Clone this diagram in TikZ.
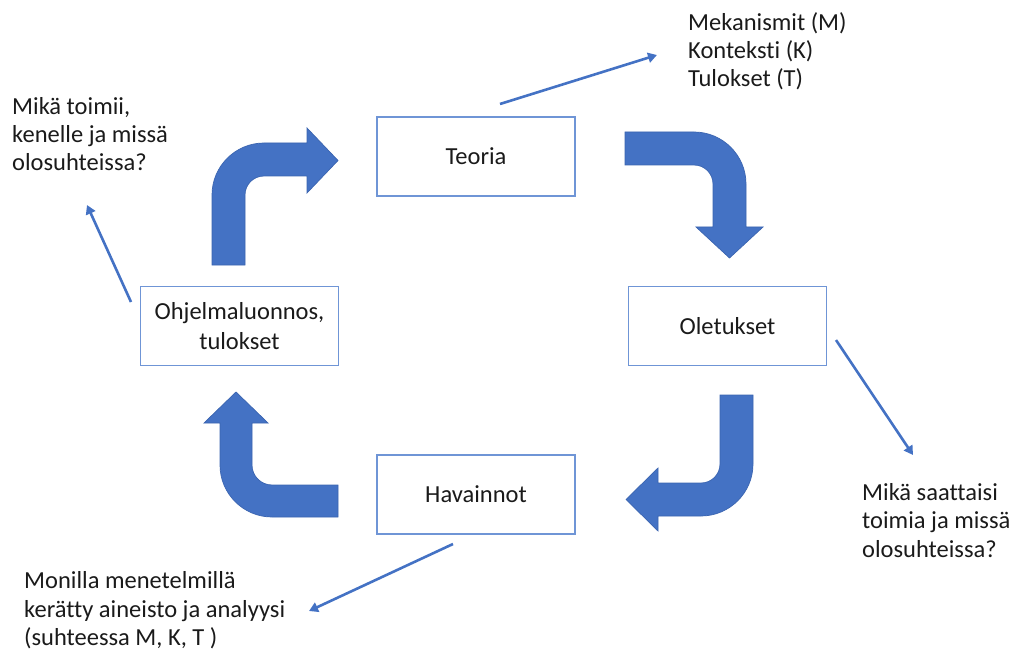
\documentclass[tikz,border=0pt]{standalone}
\usepackage{fontspec}
\setmainfont{Carlito}[Ligatures={NoCommon}]
\usetikzlibrary{arrows.meta}
\definecolor{accent}{HTML}{4472C4}
\definecolor{accentdark}{HTML}{3A64B0}
\definecolor{boxline}{HTML}{6F95D6}
\definecolor{ink}{HTML}{1A1A1A}
\tikzset{
  stage/.style={draw=boxline, line width=1.3pt, fill=white, minimum width=198pt,
    minimum height=79pt, inner sep=0pt, align=center, text=ink,
    font=\fontsize{24.5}{30}\selectfont},
  note/.style={anchor=base west, inner sep=0pt, align=left, text=ink,
    font=\fontsize{24.5}{28.3}\selectfont},
  bent/.style={fill=accent, draw=accentdark, line width=0.7pt, line join=miter},
  pointer/.style={draw=accent, line width=2.6pt, -{Triangle[length=9pt,width=10pt]}}
}
\begin{document}
\begin{tikzpicture}[x=1pt,y=-1pt]
\useasboundingbox (0,0) rectangle (1012,655);

% the four stages of the cycle
\node[stage] (teoria)   at (476,156.5) {Teoria};
\node[stage] (oletukset) at (727.5,326) {Oletukset};
\node[stage] (havainnot) at (476,494.5) {Havainnot};
\node[stage] (ohjelma)  at (239.5,326) {Ohjelmaluonnos,\\tulokset};

% bent block arrows between the stages
\path[bent] (212,265) -- (212,195) .. controls (212,166.3) and (235.3,143) .. (264,143)
  -- (307,143) -- (307,128) -- (338,160.5) -- (307,193) -- (307,176) -- (264,176)
  .. controls (253.5,176) and (245,184.5) .. (245,195) -- (245,265) -- cycle;
\path[bent] (625,132) -- (694,132) .. controls (722.7,132) and (746,155.3) .. (746,184)
  -- (746,227) -- (763,227) -- (729.5,258) -- (696,227) -- (713,227) -- (713,184)
  .. controls (713,173.5) and (704.5,165) .. (694,165) -- (625,165) -- cycle;
\path[bent] (720,395) -- (753,395) -- (753,464) .. controls (753,492.7) and (729.7,516) .. (701,516)
  -- (658,516) -- (658,531) -- (626,499.5) -- (658,468) -- (658,483) -- (701,483)
  .. controls (711.5,483) and (720,474.5) .. (720,464) -- cycle;
\path[bent] (338,485) -- (272,485) .. controls (261,485) and (252,476) .. (252,465)
  -- (252,423) -- (268,423) -- (236,392) -- (204,423) -- (220,423) -- (220,465)
  .. controls (220,493.7) and (243.3,517) .. (272,517) -- (338,517) -- cycle;

% side notes (anchored at the baseline of their last line)
\node[note] (mkt) at (688,87) {Mekanismit (M)\\Konteksti (K)\\Tulokset (T)};
\node[note] (toimii) at (12,171) {Mikä toimii,\\kenelle ja missä\\olosuhteissa?};
\node[note] (saattaisi) at (862,557) {Mikä saattaisi\\toimia ja missä\\olosuhteissa?};
\node[note] (monilla) at (24,645.5) {Monilla menetelmillä\\kerätty aineisto ja analyysi\\(suhteessa M, K, T )};

% thin pointers from the stages to the notes
\coordinate (p1s) at (500,104);  \coordinate (p1e) at (657,55);
\coordinate (p2s) at (131,302);  \coordinate (p2e) at (87,205);
\coordinate (p3s) at (836,340);  \coordinate (p3e) at (913,455);
\coordinate (p4s) at (453,544);  \coordinate (p4e) at (309,611);
\draw[pointer] (p1s) -- (p1e);
\draw[pointer] (p2s) -- (p2e);
\draw[pointer] (p3s) -- (p3e);
\draw[pointer] (p4s) -- (p4e);
\end{tikzpicture}
\end{document}
